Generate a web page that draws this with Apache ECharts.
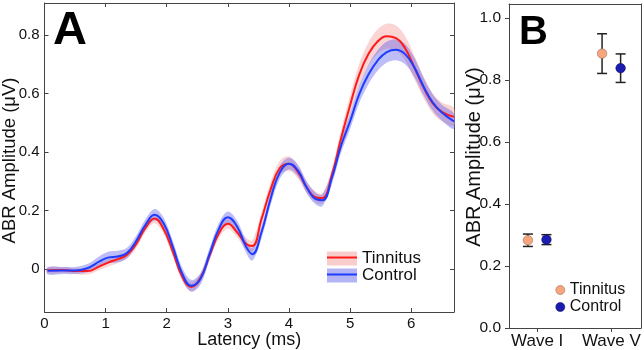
<!DOCTYPE html>
<html>
<head>
<meta charset="utf-8">
<script src="https://cdn.jsdelivr.net/npm/echarts@6/dist/echarts.min.js"></script>
<style>html,body{margin:0;padding:0;background:#fff}#c{width:644px;height:350px}</style>
</head>
<body>
<div id="c"></div>
<script>
// ---------- Panel A data (latency in ms, amplitude in µV) ----------
var latency = [0.05,0.3,0.5,0.7,0.9,1.05,1.2,1.35,1.5,1.65,1.8,1.95,2.1,2.25,2.4,2.55,2.7,2.85,3.0,3.15,3.3,3.4,3.55,3.7,3.85,4.0,4.15,4.3,4.45,4.55,4.7,4.85,5.0,5.15,5.3,5.45,5.6,5.75,5.9,6.05,6.2,6.35,6.5,6.7];
var tinnitusMean = [-0.005,-0.004,-0.008,-0.008,0.008,0.022,0.033,0.048,0.085,0.14,0.172,0.135,0.058,-0.025,-0.062,-0.032,0.045,0.12,0.154,0.125,0.085,0.078,0.17,0.272,0.345,0.36,0.33,0.275,0.244,0.242,0.32,0.445,0.56,0.665,0.735,0.778,0.796,0.79,0.755,0.69,0.622,0.567,0.537,0.52];
var tinnitusSem  = [0.01,0.01,0.01,0.012,0.012,0.013,0.013,0.013,0.015,0.015,0.016,0.016,0.016,0.016,0.016,0.016,0.016,0.017,0.017,0.018,0.02,0.02,0.022,0.024,0.025,0.025,0.022,0.02,0.018,0.018,0.022,0.028,0.033,0.038,0.04,0.042,0.043,0.043,0.042,0.04,0.037,0.034,0.032,0.03];
var controlMean  = [-0.007,-0.006,-0.006,0.002,0.025,0.039,0.042,0.054,0.095,0.15,0.185,0.155,0.075,-0.015,-0.058,-0.035,0.05,0.135,0.176,0.145,0.075,0.05,0.125,0.24,0.33,0.36,0.335,0.275,0.238,0.235,0.31,0.42,0.505,0.598,0.665,0.713,0.742,0.75,0.735,0.69,0.625,0.57,0.535,0.505];
var controlSem   = [0.012,0.012,0.012,0.014,0.018,0.02,0.02,0.018,0.018,0.019,0.02,0.02,0.02,0.02,0.02,0.02,0.02,0.02,0.02,0.02,0.021,0.022,0.022,0.022,0.022,0.02,0.02,0.02,0.02,0.02,0.022,0.024,0.026,0.03,0.033,0.035,0.036,0.036,0.035,0.033,0.03,0.028,0.027,0.026];
var xTicksA = [0,1,2,3,4,5,6];
var yTicksA = [0,0.2,0.4,0.6,0.8];

// ---------- Panel B data ----------
var waves = ['Wave I','Wave V'];
var tinnitusWave = [0.283,0.885];
var tinnitusWaveErr = [0.020,0.064];
var controlWave = [0.285,0.838];
var controlWaveErr = [0.016,0.046];
var yTicksB = [0,0.2,0.4,0.6,0.8,1.0];

var FONT = 'Liberation Sans, Arial, Helvetica, sans-serif';
var AX = '#444';

function pairs(xs, ys){ return xs.map(function(x,i){ return [x, ys[i]]; }); }
function bandRows(xs, m, s){ return xs.map(function(x,i){ return [x, m[i]-s[i], m[i]+s[i]]; }); }

var offT = -0.125, offC = 0.125;
var tPts = waves.map(function(w,i){ return [i+1+offT, tinnitusWave[i]]; });
var cPts = waves.map(function(w,i){ return [i+1+offC, controlWave[i]]; });
var errData = [];
waves.forEach(function(w,i){
  errData.push([i+1+offT, tinnitusWave[i]-tinnitusWaveErr[i], tinnitusWave[i]+tinnitusWaveErr[i]]);
  errData.push([i+1+offC, controlWave[i]-controlWaveErr[i], controlWave[i]+controlWaveErr[i]]);
});

function bandRenderer(color){
  return function(params, api){
    if (params.dataIndexInside !== 0) return null;
    var n = params.dataInsideLength, up = [], lo = [];
    for (var i = 0; i < n; i++){
      var x = api.value(0, i);
      lo.push(api.coord([x, api.value(1, i)]));
      up.push(api.coord([x, api.value(2, i)]));
    }
    var pts = up.concat(lo.reverse());
    return {type:'polygon', shape:{points:pts, smooth:0.35}, style:{fill:color, stroke:null}};
  };
}

var chart = echarts.init(document.getElementById('c'), null, {renderer:'canvas'});
var option = {
  animation:false,
  backgroundColor:'#fff',
  textStyle:{fontFamily:FONT},
  grid:[
    {left:44.5, top:3, width:409.5, height:309, containLabel:false, outerBoundsMode:'none'},
    {left:509, top:4, width:132, height:324, containLabel:false, outerBoundsMode:'none'}
  ],
  xAxis:[
    {type:'value', gridIndex:0, min:0, max:6.7, interval:1, position:'bottom',
     axisLine:{show:true, onZero:false, lineStyle:{color:AX, width:1}},
     axisTick:{show:true, inside:true, length:4, lineStyle:{color:AX}, customValues:xTicksA},
     axisLabel:{show:true, fontSize:15, color:'#111', margin:4, fontFamily:FONT, customValues:xTicksA},
     splitLine:{show:false},
     name:'Latency (ms)', nameLocation:'middle', nameGap:19, nameMoveOverlap:false, nameTextStyle:{fontSize:18, color:'#111', fontFamily:FONT}},
    {type:'value', gridIndex:0, min:0, max:6.7, interval:1, position:'top',
     axisLine:{show:true, onZero:false, lineStyle:{color:AX, width:1}},
     axisTick:{show:true, inside:true, length:4, lineStyle:{color:AX}, customValues:xTicksA},
     axisLabel:{show:false}, splitLine:{show:false}},
    {type:'value', gridIndex:1, min:0.62, max:2.4, position:'bottom',
     axisLine:{show:true, onZero:false, lineStyle:{color:AX, width:1}},
     axisTick:{show:true, inside:false, length:4, lineStyle:{color:AX}, customValues:[1,2]},
     axisLabel:{show:true, fontSize:17, color:'#111', margin:5, fontFamily:FONT, customValues:[1,2],
       formatter:function(v){ return waves[Math.round(v)-1] || ''; }},
     splitLine:{show:false}},
    {type:'value', gridIndex:1, min:0.62, max:2.4, position:'top',
     axisLine:{show:true, onZero:false, lineStyle:{color:AX, width:1}},
     axisTick:{show:false}, axisLabel:{show:false}, splitLine:{show:false}}
  ],
  yAxis:[
    {type:'value', gridIndex:0, min:-0.148, max:0.91, position:'left',
     axisLine:{show:true, onZero:false, lineStyle:{color:AX, width:1}},
     axisTick:{show:true, inside:true, length:4, lineStyle:{color:AX}, customValues:yTicksA},
     axisLabel:{show:true, fontSize:15, color:'#111', margin:5, fontFamily:FONT, customValues:yTicksA,
       formatter:function(v){ return v===0 ? '0' : v.toFixed(1); }},
     splitLine:{show:false},
     name:'ABR Amplitude (μV)', nameLocation:'middle', nameGap:25, nameMoveOverlap:false, nameTextStyle:{fontSize:18.5, color:'#111', fontFamily:FONT, padding:[0,0,0,-6]}},
    {type:'value', gridIndex:0, min:-0.148, max:0.91, position:'right',
     axisLine:{show:true, onZero:false, lineStyle:{color:AX, width:1}},
     axisTick:{show:true, inside:true, length:4, lineStyle:{color:AX}, customValues:yTicksA},
     axisLabel:{show:false}, splitLine:{show:false}},
    {type:'value', gridIndex:1, min:0, max:1.045, position:'left',
     axisLine:{show:true, onZero:false, lineStyle:{color:AX, width:1}},
     axisTick:{show:true, inside:false, length:4, lineStyle:{color:AX}, customValues:yTicksB},
     axisLabel:{show:true, fontSize:15.5, color:'#111', margin:8, fontFamily:FONT, customValues:yTicksB,
       formatter:function(v){ return v.toFixed(1); }},
     splitLine:{show:false},
     name:'ABR Amplitude (μV)', nameLocation:'middle', nameGap:25, nameMoveOverlap:false, nameTextStyle:{fontSize:20, color:'#111', fontFamily:FONT, padding:[0,0,0,18]}},
    {type:'value', gridIndex:1, min:0, max:1.045, position:'right',
     axisLine:{show:true, onZero:false, lineStyle:{color:AX, width:1}},
     axisTick:{show:false}, axisLabel:{show:false}, splitLine:{show:false}}
  ],
  legend:[
    {left:327, top:250, orient:'vertical', padding:0, itemGap:0, itemWidth:30, itemHeight:14,
     selectedMode:false, textStyle:{fontSize:17, color:'#111', fontFamily:FONT},
     data:[{name:'Tinnitus', icon:'rect', itemStyle:{color:'rgba(250,205,205,1)'}},
           {name:'Control', icon:'rect', itemStyle:{color:'rgba(180,180,245,1)'}}]},
    {left:555.5, top:282, orient:'vertical', padding:0, itemGap:1, itemWidth:9, itemHeight:9,
     selectedMode:false, textStyle:{fontSize:16, color:'#111', fontFamily:FONT},
     data:[{name:'Tinnitus', icon:'circle', itemStyle:{color:'#F8A57C', borderColor:'#9a7060', borderWidth:0.6}},
           {name:'Control', icon:'circle', itemStyle:{color:'#1C1CB0', borderColor:'#0c0c60', borderWidth:0.6}}]}
  ],
  graphic:[
    {type:'text', left:53, top:8, z:100, style:{text:'A', font:'bold 47px '+FONT, fill:'#000'}},
    {type:'text', left:519, top:13, z:100, style:{text:'B', font:'bold 40px '+FONT, fill:'#000'}},
    {type:'line', z:100, shape:{x1:327, y1:257.5, x2:357, y2:257.5}, style:{stroke:'#ff1a1a', lineWidth:2}},
    {type:'line', z:100, shape:{x1:327, y1:274.5, x2:357, y2:274.5}, style:{stroke:'#1e3cff', lineWidth:2}}
  ],
  series:[
    {type:'custom', name:'Tinnitus', xAxisIndex:0, yAxisIndex:0, data:bandRows(latency,tinnitusMean,tinnitusSem),
     encode:{x:0, y:[1,2]}, clip:true, silent:true, z:1, itemStyle:{color:'rgba(250,205,205,1)'},
     renderItem:bandRenderer('rgba(248,170,170,0.5)')},
    {type:'custom', name:'Control', xAxisIndex:0, yAxisIndex:0, data:bandRows(latency,controlMean,controlSem),
     encode:{x:0, y:[1,2]}, clip:true, silent:true, z:2, itemStyle:{color:'rgba(180,180,245,1)'},
     renderItem:bandRenderer('rgba(90,90,235,0.4)')},
    {type:'line', name:'Tinnitus mean', xAxisIndex:0, yAxisIndex:0, data:pairs(latency,tinnitusMean),
     smooth:0.45, symbol:'none', lineStyle:{color:'#ff1a1a', width:2}, z:3},
    {type:'line', name:'Control mean', xAxisIndex:0, yAxisIndex:0, data:pairs(latency,controlMean),
     smooth:0.45, symbol:'none', lineStyle:{color:'#1e3cff', width:2}, z:4},
    {type:'custom', name:'errors', xAxisIndex:2, yAxisIndex:2, data:errData, encode:{x:0, y:[1,2]}, z:5,
     renderItem:function(params, api){
       var x = api.value(0), lo = api.value(1), hi = api.value(2);
       var a = api.coord([x, lo]), b = api.coord([x, hi]);
       var w = 5, st = {stroke:'#222', lineWidth:1.5};
       return {type:'group', children:[
         {type:'line', shape:{x1:a[0], y1:a[1], x2:b[0], y2:b[1]}, style:st},
         {type:'line', shape:{x1:a[0]-w, y1:a[1], x2:a[0]+w, y2:a[1]}, style:st},
         {type:'line', shape:{x1:b[0]-w, y1:b[1], x2:b[0]+w, y2:b[1]}, style:st}
       ]};
     }},
    {type:'scatter', name:'Tinnitus', xAxisIndex:2, yAxisIndex:2, data:tPts, symbol:'circle', symbolSize:9.5,
     itemStyle:{color:'#F8A57C', borderColor:'#9a7060', borderWidth:0.6, opacity:1}, z:6},
    {type:'scatter', name:'Control', xAxisIndex:2, yAxisIndex:2, data:cPts, symbol:'circle', symbolSize:9.5,
     itemStyle:{color:'#1C1CB0', borderColor:'#0c0c60', borderWidth:0.6, opacity:1}, z:6}
  ]
};
chart.setOption(option);
</script>
</body>
</html>
